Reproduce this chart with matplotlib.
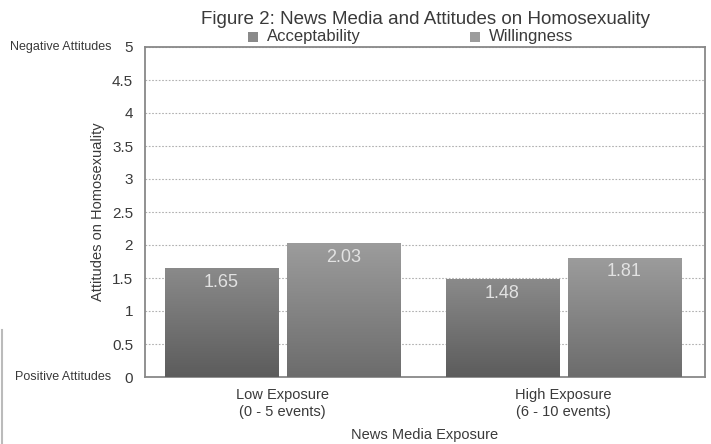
import numpy as np
import matplotlib
matplotlib.use("Agg")
import matplotlib.pyplot as plt
from matplotlib.colors import LinearSegmentedColormap
from matplotlib.patches import Rectangle

categories = ["Low Exposure\n(0 - 5 events)", "High Exposure\n(6 - 10 events)"]
series_names = ["Acceptability", "Willingness"]
acceptability = [1.65, 1.48]
willingness = [2.03, 1.81]
yticks = [0, 0.5, 1, 1.5, 2, 2.5, 3, 3.5, 4, 4.5, 5]
ytick_labels = ["0", "0.5", "1", "1.5", "2", "2.5", "3", "3.5", "4", "4.5", "5"]

plt.rcParams['font.family'] = ['Liberation Sans', 'DejaVu Sans']
txt = "#3a3a3a"

fig = plt.figure(figsize=(7.11, 4.44), dpi=100)
ax = fig.add_axes([145/711, 1-377/444, (705-145)/711, (377-47)/444])

x = np.arange(len(categories))
w = 0.403
off = 0.2175
grads = [("#8a8a8a", "#5c5c5c"), ("#9c9c9c", "#6c6c6c")]
for i, (vals, (ctop, cbot)) in enumerate(zip([acceptability, willingness], grads)):
    pos = x + (-off if i == 0 else off)
    bars = ax.bar(pos, vals, width=w, color="none", edgecolor="none", zorder=3)
    cmap = LinearSegmentedColormap.from_list("g%d" % i, [cbot, ctop])
    for b, v in zip(bars, vals):
        x0, x1 = b.get_x(), b.get_x() + b.get_width()
        grad = np.linspace(0, 1, 256).reshape(-1, 1)
        im = ax.imshow(grad, cmap=cmap, origin="lower", aspect="auto",
                       extent=[x0, x1, 0, v], zorder=3)
        im.set_clip_path(b)
        ax.text(b.get_x() + b.get_width()/2, v - 0.215, f"{v:.2f}", ha="center", va="center",
                color="#e2e2e2", fontsize=13, zorder=4)

ax.set_xlim(-0.49, 1.505)
ax.set_ylim(0, 5)
ax.set_yticks(yticks)
ax.set_yticklabels(ytick_labels, fontsize=11, color=txt)
ax.set_xticks(x)
ax.set_xticklabels(categories, fontsize=10.5, color=txt, linespacing=1.3)
ax.tick_params(axis="both", length=0)
ax.tick_params(axis="y", pad=8.5)
ax.tick_params(axis="x", pad=8)
ax.grid(axis="y", linestyle=(0, (1.5, 1.5)), color="#b0b0b0", linewidth=0.8, zorder=0)
ax.set_axisbelow(True)
for s in ax.spines.values():
    s.set_color("#888888")
    s.set_linewidth(1.3)

ax.set_ylabel("Attitudes on Homosexuality", fontsize=10.5, color=txt)
ax.yaxis.set_label_coords((98-145)/560, (377-212)/330)
ax.set_xlabel("News Media Exposure", fontsize=10.5, color=txt)
ax.xaxis.set_label_coords((425-145)/560, -(435-377)/330)
ax.xaxis.label.set_va("center")
ax.yaxis.label.set_va("center")

fig.text(111/711, 1-47/444, "Negative Attitudes", ha="right", va="center", fontsize=9, color=txt)
fig.text(111/711, 1-377/444, "Positive Attitudes", ha="right", va="center", fontsize=9, color=txt)

fig.text(425.5/711, 1-20/444, "Figure 2: News Media and Attitudes on Homosexuality",
         ha="center", va="center", fontsize=13.5, color=txt)

leg_x = [248, 470]
for name, lx, (ctop, cbot) in zip(series_names, leg_x, grads):
    fig.patches.append(Rectangle((lx/711, 1-42/444), 10/711, 10/444, transform=fig.transFigure,
                                 facecolor=ctop, edgecolor="none"))
    fig.text((lx+19)/711, 1-37/444, name, ha="left", va="center", fontsize=12, color=txt)

fig.add_artist(plt.Line2D([2/711, 2/711], [0, 1-330/444], transform=fig.transFigure,
                          color="#bbbbbb", linewidth=1.5))

fig.savefig("out.png", dpi=100)
